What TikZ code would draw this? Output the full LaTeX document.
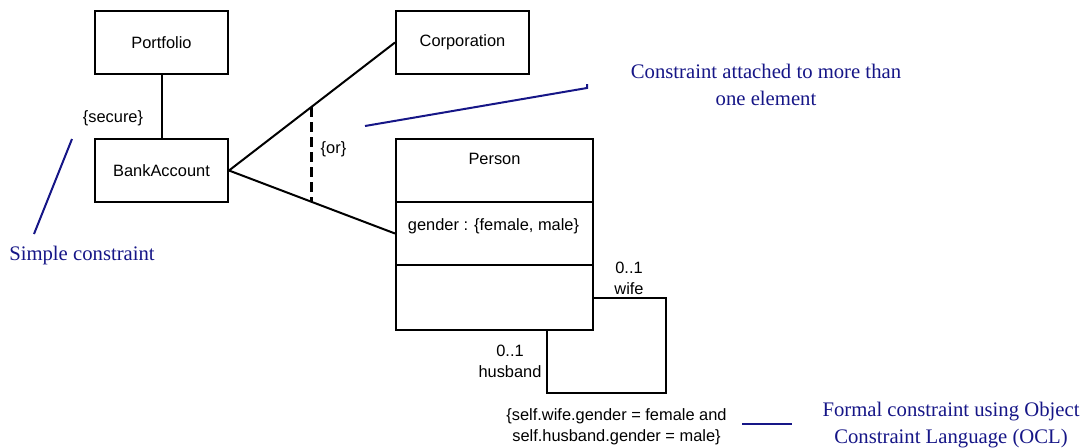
\documentclass[tikz,border=0pt]{standalone}
\usepackage{fontspec}
\setmainfont{Liberation Serif}
\setsansfont{Liberation Sans}
\usetikzlibrary{calc}
\definecolor{notecol}{RGB}{22,22,135}
\begin{document}
\begin{tikzpicture}[x=1pt,y=-1pt,
  uml/.style={font=\sffamily\fontsize{16.4}{21}\selectfont},
  classbox/.style={uml, draw, line width=2pt, inner sep=0pt,
    minimum width=133pt, minimum height=63pt},
  compart/.style={draw, line width=2pt, inner sep=0pt,
    minimum width=197pt},
  lbl/.style={uml, inner sep=0pt, align=center},
  assoc/.style={line width=2pt},
  orline/.style={line width=3pt, dash pattern=on 10pt off 5pt},
  noteline/.style={notecol, line width=2pt},
  note/.style={notecol, inner sep=0pt, align=center,
    font=\rmfamily\fontsize{20.7}{27.5}\selectfont}]
\useasboundingbox (0,0) rectangle (1081,447);

% classes
\node[classbox] (pf) at (161.5,42.5) {Portfolio};
\node[classbox] (ba) at (161.5,170.5) {BankAccount};
\node[classbox] (corp) at (462.5,42.5) {Corporation};

% Person with its three compartments
\node[compart, minimum height=63pt] (ptop) at (494.5,170.5) {};
\node[compart, minimum height=63pt] (pattr) at (494.5,233.5) {};
\node[compart, minimum height=65pt] (pops) at (494.5,297.5) {};
\node[lbl] (pname) at (494.5,159) {Person};
\node[lbl] (pgender) at (493.5,226) {gender : \{female, male\}};

% associations
\draw[assoc] (pf) -- (ba);
\draw[assoc] (ba.east) -- (corp.west);
\draw[assoc] (ba.east) -- (pattr.west);
\node[lbl] (secure) at (113,118) {\{secure\}};

% {or} constraint across the two associations
\coordinate (orA) at ($(ba.east)!0.494!(corp.west)$);
\coordinate (orB) at ($(ba.east)!0.494!(pattr.west)$);
\draw[orline] (orA) -- (orB);
\node[lbl] (or) at (333.5,149) {\{or\}};

% reflexive association on Person
\coordinate (loopc) at (666,393);
\coordinate (hb) at ($(pops.south west)!0.766!(pops.south east)$);
\draw[assoc] (pops.east) -| (loopc) -| (hb);
\node[lbl] (wife) at (629,278) {0..1\\wife};
\node[lbl] (husband) at (510,361) {0..1\\husband};

% OCL constraint
\node[lbl] (ocl) at (616.5,427) {\{self.wife.gender = female and\\self.husband.gender = male\}};

% annotations
\coordinate (sA) at (72,139);
\coordinate (sB) at (34,234);
\draw[noteline] (sA) -- (sB);
\node[note] (simple) at (82,256) {Simple constraint};

\coordinate (mA) at (365,126);
\coordinate (mB) at (587,88);
\coordinate (mC) at (587,84);
\draw[noteline] (mA) -- (mB) -- (mC);
\node[note] (multi) at (766,85) {Constraint attached to more than\\one element};

\coordinate (fA) at (742,424);
\coordinate (fB) at (792,424);
\draw[noteline] (fA) -- (fB);
\node[note] (formal) at (951,425) {Formal constraint using Object\\Constraint Language (OCL)};
\end{tikzpicture}
\end{document}
